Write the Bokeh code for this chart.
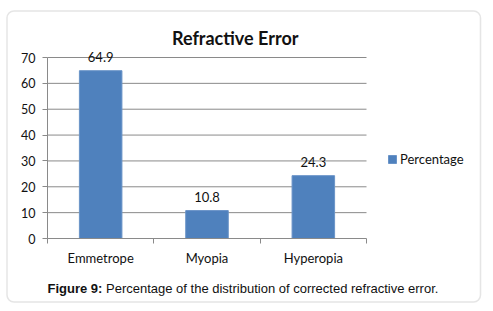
from bokeh.plotting import figure
from bokeh.models import (Range1d, FixedTicker, Label, LabelSet, ColumnDataSource,
                          Legend, LegendItem, BoxAnnotation)
from bokeh.core.properties import value
from bokeh.embed import file_html
from bokeh.resources import INLINE

# ---- data ----
categories = ["Emmetrope", "Myopia", "Hyperopia"]
values = [64.9, 10.8, 24.3]
series_name = "Percentage"
title_text = "Refractive Error"
caption_bold = "Figure 9:"
caption_text = "Percentage of the distribution of corrected refractive error."
y_ticks = [0, 10, 20, 30, 40, 50, 60, 70]

# ---- layout (canvas pixels); the frame covers the whole canvas ----
W, H = 485, 303
PL, PR, PT, PB = 47, 366, 57, 238      # plot-area edges in pixels
XMAX = len(categories)
YMAX = y_ticks[-1]


def dx(px):
    return (px - PL) / (PR - PL) * XMAX


def dy(py):
    return (PB - py) / (PB - PT) * YMAX


FONT = "Lato"
TXT = "#111111"
GRID = "#8a8a8a"
BAR = "#4F81BD"

centers = [i + 0.5 for i in range(len(categories))]
src = ColumnDataSource(dict(x=centers, top=values, label=[str(v) for v in values]))

p = figure(width=W, height=H, output_backend="svg", toolbar_location=None,
           x_range=Range1d(dx(0), dx(W)), y_range=Range1d(dy(H), dy(0)),
           min_border=0)
p.outline_line_color = None
p.background_fill_color = "white"
p.border_fill_color = "white"
p.xgrid.grid_line_color = None
p.ygrid.grid_line_color = None

# horizontal gridlines at the y ticks, spanning the plot area
gy = y_ticks[1:]
p.segment(x0=[0] * len(gy), x1=[XMAX] * len(gy), y0=gy, y1=gy,
          line_color=GRID, line_width=1, level="underlay")

r = p.vbar(x="x", top="top", width=0.4, source=src, fill_color=BAR,
           line_color="#6a94c8", line_width=1)

# y axis
p.yaxis.fixed_location = 0
p.yaxis.bounds = (0, YMAX)
p.yaxis.ticker = FixedTicker(ticks=y_ticks)
p.yaxis.axis_line_color = GRID
p.yaxis.major_tick_line_color = GRID
p.yaxis.major_tick_out = 5
p.yaxis.major_tick_in = 0
p.yaxis.minor_tick_line_color = None
p.yaxis.major_label_standoff = 7
p.yaxis.major_label_text_font = FONT
p.yaxis.major_label_text_font_size = "12.5px"
p.yaxis.major_label_text_color = TXT

# x axis: labels at category centres, ticks at boundaries
p.xaxis.fixed_location = 0
p.xaxis.bounds = (0, XMAX)
p.xaxis.ticker = FixedTicker(ticks=centers, minor_ticks=list(range(len(categories) + 1)))
p.xaxis.major_label_overrides = {c: n for c, n in zip(centers, categories)}
p.xaxis.major_tick_line_color = None
p.xaxis.minor_tick_line_color = GRID
p.xaxis.minor_tick_out = 5
p.xaxis.minor_tick_in = 0
p.xaxis.axis_line_color = GRID
p.xaxis.major_label_standoff = 5
p.xaxis.major_label_text_font = FONT
p.xaxis.major_label_text_font_size = "13px"
p.xaxis.major_label_text_color = TXT

# value labels
p.add_layout(LabelSet(x="x", y="top", text="label", source=src, y_offset=9,
                      text_align="center", text_baseline="alphabetic",
                      text_font=value(FONT), text_font_size=value("13px"),
                      text_color=TXT))

# title
p.add_layout(Label(x=dx(234.7), y=dy(37.5), text=title_text, text_align="center",
                   text_baseline="alphabetic", text_font=FONT, text_font_size="18px",
                   text_font_style="bold", text_color=TXT))

# caption
p.add_layout(Label(x=dx(47), y=dy(287.5), text=caption_bold, text_align="left",
                   text_baseline="alphabetic", text_font="Liberation Sans",
                   text_font_size="13px", text_font_style="bold", text_color="#111111"))
p.add_layout(Label(x=dx(105.5), y=dy(287.5), text=caption_text, text_align="left",
                   text_baseline="alphabetic", text_font="Liberation Sans",
                   text_font_size="13px", text_color="#111111"))

# legend (location measured from the bottom-left of the canvas)
legend = Legend(items=[LegendItem(label=series_name, renderers=[r])],
                location=(387, H - 167), glyph_width=10, glyph_height=10,
                label_height=10, label_standoff=3, padding=0, margin=0,
                border_line_color=None, background_fill_alpha=0,
                label_text_font=FONT, label_text_font_size="13px",
                label_text_color=TXT)
p.add_layout(legend)

# outer rounded border
p.add_layout(BoxAnnotation(left=dx(6.5), right=dx(480), top=dy(10.5), bottom=dy(301.5),
                           fill_color=None, line_color="#a8a8a8", line_width=1.5,
                           border_radius=7))

open("out.html", "w").write(file_html(p, INLINE))
